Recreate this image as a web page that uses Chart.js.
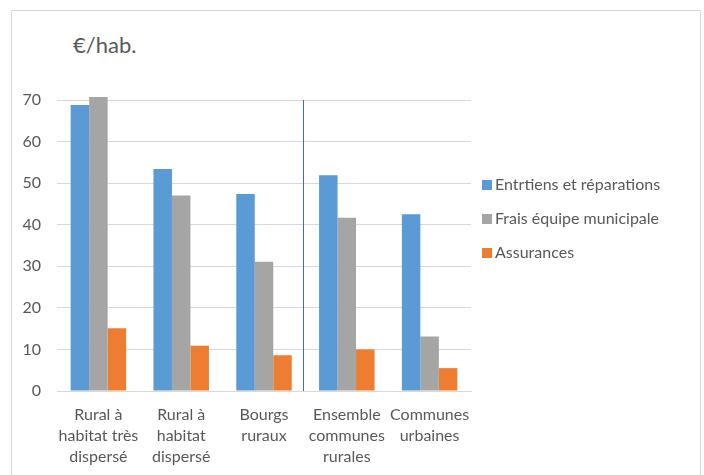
<!DOCTYPE html>
<html>
<head>
<meta charset="utf-8">
<script src="https://cdn.jsdelivr.net/npm/chart.js@4/dist/chart.umd.min.js"></script>
<style>
  html, body { margin: 0; padding: 0; background: #fff; }
  #wrap { position: relative; width: 704px; height: 475px; overflow: hidden; }
  #frame { position: absolute; left: 11px; top: 10px; width: 690px; height: 520px; border: 1px solid #d9d9d9; box-sizing: border-box; }
  #unit { position: absolute; left: 73px; top: 31px; font: 22px Lato, sans-serif; color: #595959; }
  canvas { position: absolute; left: 0; top: 0; }
</style>
</head>
<body>
<div id="wrap">
  <div id="frame"></div>
  <div id="unit">€/hab.</div>
  <canvas id="chart" width="704" height="475"></canvas>
</div>
<script>
const categories = [
  ['Rural à', 'habitat très', 'dispersé'],
  ['Rural à', 'habitat', 'dispersé'],
  ['Bourgs', 'ruraux'],
  ['Ensemble', 'communes', 'rurales'],
  ['Communes', 'urbaines'],
]
const seriesNames = ['Entrtiens et réparations', 'Frais équipe municipale', 'Assurances']
const entretiens = [68.8, 53.4, 47.4, 51.9, 42.5]
const fraisEquipe = [70.7, 47.0, 31.1, 41.7, 13.1]
const assurances = [15.1, 10.9, 8.6, 10.0, 5.5]
const colors = ['#5b9bd5', '#a5a5a5', '#ed7d31']

const textColor = '#595959'
const font = { family: 'Lato, sans-serif', size: 16 }

// thin vertical line between the rural groups and the totals
const separator = {
  id: 'separator',
  afterDatasetsDraw(chart) {
    const x = chart.scales.x
    const { top, bottom } = chart.chartArea
    const px = Math.round((x.getPixelForValue(2) + x.getPixelForValue(3)) / 2) - 2 + 0.5
    const ctx = chart.ctx
    ctx.save()
    ctx.strokeStyle = '#3a70b8'
    ctx.lineWidth = 1
    ctx.beginPath()
    ctx.moveTo(px, top)
    ctx.lineTo(px, bottom)
    ctx.stroke()
    ctx.restore()
  },
}

// legend drawn to the right of the plot
const sideLegend = {
  id: 'sideLegend',
  afterDraw(chart) {
    const ctx = chart.ctx
    const left = chart.chartArea.right + 11
    ctx.save()
    ctx.font = '16px Lato, sans-serif'
    ctx.textBaseline = 'middle'
    chart.data.datasets.forEach((ds, i) => {
      const y = 185 + i * 34
      ctx.fillStyle = ds.backgroundColor
      ctx.fillRect(left, y - 5, 10, 10)
      ctx.fillStyle = textColor
      ctx.fillText(ds.label, left + 13, y)
    })
    ctx.restore()
  },
}

new Chart(document.getElementById('chart').getContext('2d'), {
  type: 'bar',
  data: {
    labels: categories,
    datasets: [
      { label: seriesNames[0], backgroundColor: colors[0], data: entretiens },
      { label: seriesNames[1], backgroundColor: colors[1], data: fraisEquipe },
      { label: seriesNames[2], backgroundColor: colors[2], data: assurances },
    ],
  },
  options: {
    responsive: false,
    animation: false,
    layout: { padding: { left: 0, top: 100, right: 233, bottom: 0 } },
    datasets: { bar: { categoryPercentage: 0.67, barPercentage: 1, clip: false } },
    plugins: {
      legend: { display: false },
      tooltip: { enabled: false },
    },
    scales: {
      x: {
        grid: { display: false, drawTicks: false },
        border: { color: '#d9d9d9' },
        ticks: { color: textColor, font: { ...font, lineHeight: 1.31 }, padding: 13, maxRotation: 0, autoSkip: false },
        afterFit(scale) { scale.height = 84 },
      },
      y: {
        min: 0,
        max: 70,
        grid: { color: '#d9d9d9', drawTicks: false },
        border: { display: false },
        ticks: { stepSize: 10, color: textColor, font, padding: 16 },
        afterFit(scale) { scale.width = 57 },
      },
    },
  },
  plugins: [separator, sideLegend],
})
</script>
</body>
</html>
